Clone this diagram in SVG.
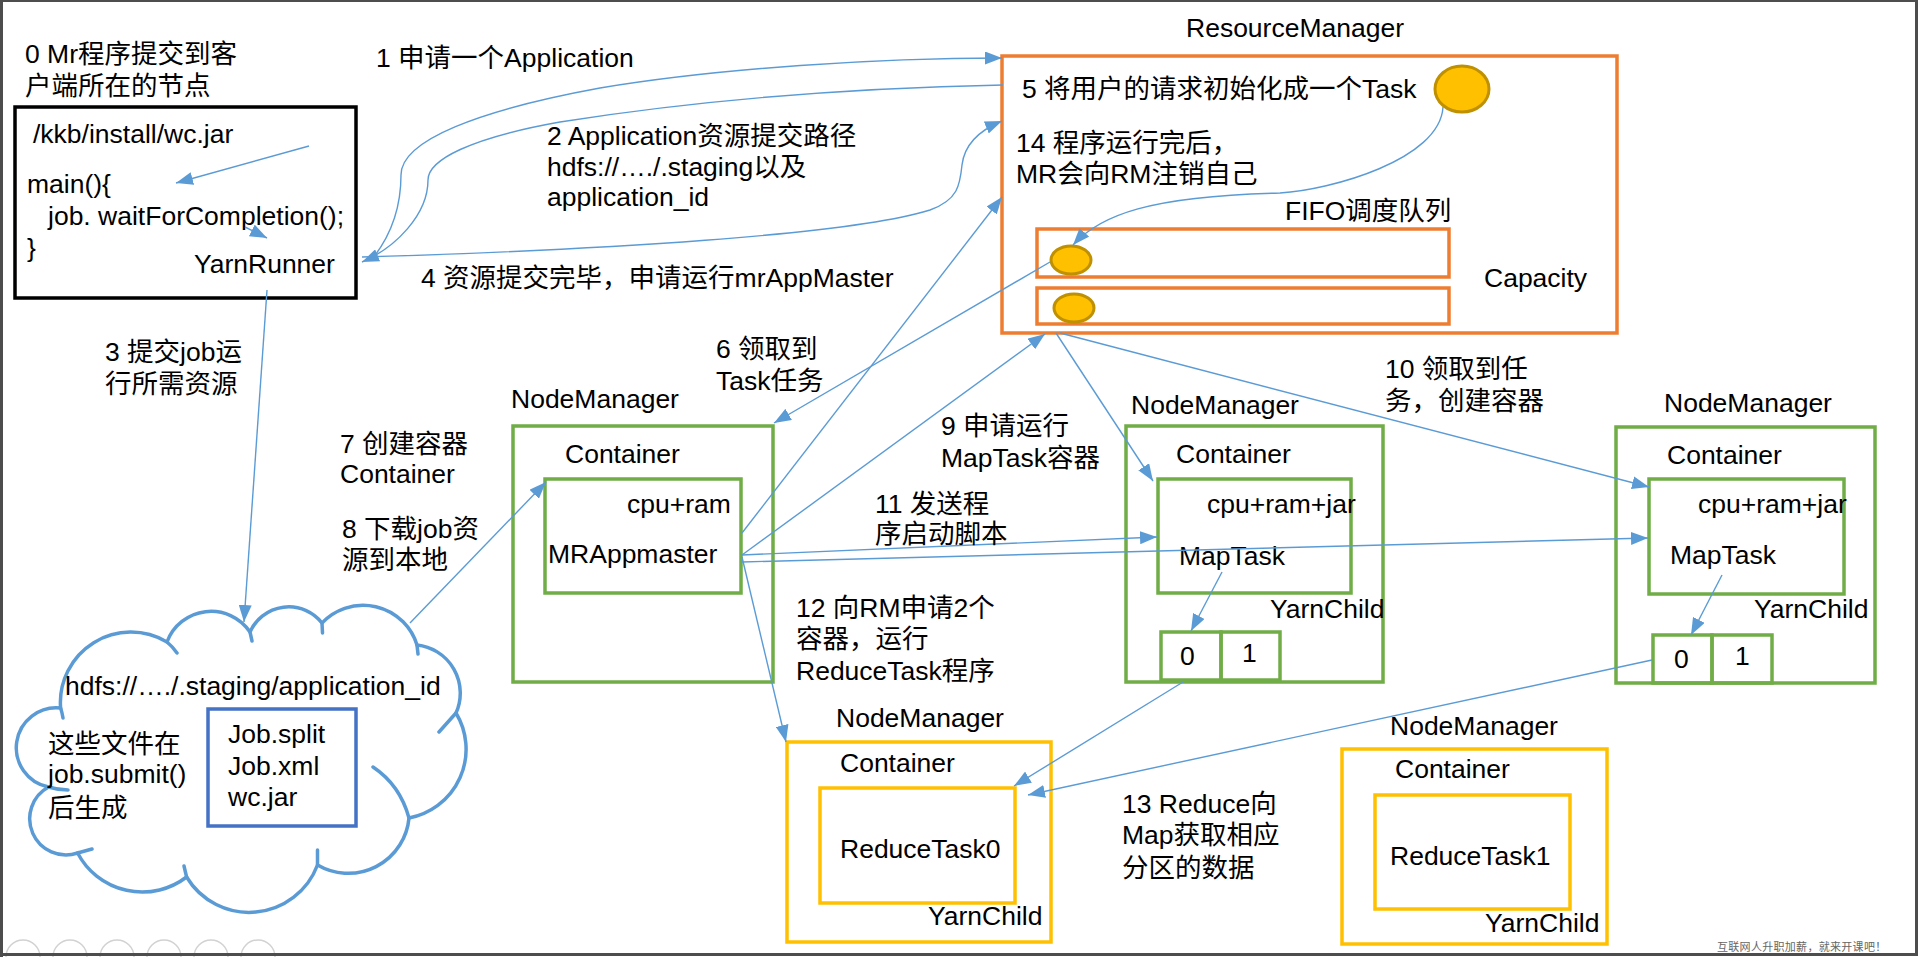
<svg xmlns="http://www.w3.org/2000/svg" width="1920" height="957" viewBox="0 0 1920 957">
<defs>
<style>
text{font-family:"Liberation Sans","Noto Sans CJK SC",sans-serif;font-size:26.5px;fill:#000}
.wm{font-family:"Noto Sans CJK SC",sans-serif;font-size:11px;fill:#666;letter-spacing:0.3px}
.blk{fill:none;stroke:#000;stroke-width:3.5}
.org{fill:none;stroke:#ED7D31;stroke-width:3.5}
.grn{fill:none;stroke:#70AD47;stroke-width:3.5}
.yel{fill:none;stroke:#FFC000;stroke-width:3.5}
.dkb{fill:none;stroke:#4472C4;stroke-width:3.5}
.cloud{fill:none;stroke:#5B9BD5;stroke-width:3.5;stroke-linecap:round}
.task{fill:#FFC000;stroke:#BF9000;stroke-width:3}
.con{fill:none;stroke:#5B9BD5;stroke-width:1.4}
.arr{marker-end:url(#ah)}
.ico{fill:none;stroke:#d2d2d2;stroke-width:1.5}
.frame{fill:#4d4d4d}
</style>
<marker id="ah" markerUnits="userSpaceOnUse" markerWidth="17" markerHeight="13" refX="17" refY="6.5" orient="auto">
<path d="M0,0 L17,6.5 L0,13 Z" fill="#5B9BD5"/>
</marker>
</defs>
<rect x="0" y="0" width="1920" height="957" fill="#fff"/>

<g id="client">
<text x="25" y="63">0 Mr程序提交到客</text>
<text x="25" y="95">户端所在的节点</text>
<rect class="blk" x="15" y="107" width="341" height="191"/>
<text x="33" y="143">/kkb/install/wc.jar</text>
<text x="27" y="193">main(){</text>
<text x="48" y="225">job. waitForCompletion();</text>
<text x="27" y="257">}</text>
<text x="194" y="273">YarnRunner</text>
</g>

<g id="hdfs">
<path class="cloud" d="M60.6,708 A70.5,70.5 0 0 1 167,642 A47,47 0 0 1 250,632 A42.4,42.4 0 0 1 322,623 A56.4,56.4 0 0 1 417,645 A48.4,48.4 0 0 1 456,713 A70,70 0 0 1 409,818 A61,61 0 0 1 317.5,865 A73,73 0 0 1 186.6,877 A73,73 0 0 1 77.6,853 A36.2,36.2 0 0 1 48.5,787 A40,40 0 0 1 60.6,708 Z"/>
<path class="cloud" d="M60.6,708 Q62,712 63,718 M167,642 Q172,646 177,653 M250,632 L252,641 M322,623 L322.5,633 M417,645 L418,654 M456,713 Q448,722 439,732 M409,818 Q400,785 373,767 M317.5,865 L317.5,850 M186.6,877 L184,866 M77.6,853 L92,849 M48.5,787 Q58,790 68,790"/>
<text x="65" y="695">hdfs://…./.staging/application_id</text>
<text x="48" y="753">这些文件在</text>
<text x="48" y="783">job.submit()</text>
<text x="48" y="817">后生成</text>
<rect class="dkb" x="208" y="709" width="148" height="117"/>
<text x="228" y="743">Job.split</text>
<text x="228" y="775">Job.xml</text>
<text x="228" y="806">wc.jar</text>
</g>

<g id="resourcemanager">
<text x="1186" y="37">ResourceManager</text>
<rect class="org" x="1002" y="56" width="615" height="277"/>
<text x="1022" y="98">5 将用户的请求初始化成一个Task</text>
<ellipse class="task" cx="1462" cy="89" rx="27" ry="23"/>
<text x="1016" y="152">14 程序运行完后，</text>
<text x="1016" y="183">MR会向RM注销自己</text>
<text x="1285" y="220">FIFO调度队列</text>
<rect class="org" x="1037" y="229" width="412" height="48"/>
<rect class="org" x="1037" y="288" width="412" height="36"/>
<ellipse class="task" cx="1071" cy="260" rx="20" ry="14"/>
<ellipse class="task" cx="1074" cy="308" rx="20" ry="14"/>
<text x="1484" y="287">Capacity</text>
</g>

<g id="nodemanager1">
<text x="511" y="408">NodeManager</text>
<rect class="grn" x="513" y="426" width="260" height="256"/>
<text x="565" y="463">Container</text>
<rect class="grn" x="545" y="479" width="196" height="114"/>
<text x="627" y="513">cpu+ram</text>
<text x="548" y="563">MRAppmaster</text>
</g>

<g id="nodemanager2">
<text x="1131" y="414">NodeManager</text>
<rect class="grn" x="1126" y="426" width="257" height="256"/>
<text x="1176" y="463">Container</text>
<rect class="grn" x="1158" y="479" width="193" height="114"/>
<text x="1207" y="513">cpu+ram+jar</text>
<text x="1179" y="565">MapTask</text>
<text x="1270" y="618">YarnChild</text>
<rect class="grn" x="1161" y="632" width="60" height="48"/>
<rect class="grn" x="1221" y="632" width="59" height="48"/>
<text x="1180" y="665">0</text>
<text x="1242" y="662">1</text>
</g>

<g id="nodemanager3">
<text x="1664" y="412">NodeManager</text>
<rect class="grn" x="1616" y="427" width="259" height="256"/>
<text x="1667" y="464">Container</text>
<rect class="grn" x="1649" y="479" width="195" height="115"/>
<text x="1698" y="513">cpu+ram+jar</text>
<text x="1670" y="564">MapTask</text>
<text x="1754" y="618">YarnChild</text>
<rect class="grn" x="1653" y="635" width="59" height="48"/>
<rect class="grn" x="1712" y="635" width="60" height="48"/>
<text x="1674" y="668">0</text>
<text x="1735" y="665">1</text>
</g>

<g id="nodemanager4">
<text x="836" y="727">NodeManager</text>
<rect class="yel" x="787" y="742" width="264" height="200"/>
<text x="840" y="772">Container</text>
<rect class="yel" x="820" y="788" width="195" height="115"/>
<text x="840" y="858">ReduceTask0</text>
<text x="928" y="925">YarnChild</text>
</g>

<g id="nodemanager5">
<text x="1390" y="735">NodeManager</text>
<rect class="yel" x="1342" y="749" width="265" height="195"/>
<text x="1395" y="778">Container</text>
<rect class="yel" x="1375" y="795" width="195" height="114"/>
<text x="1390" y="865">ReduceTask1</text>
<text x="1485" y="932">YarnChild</text>
</g>

<g id="connectors">
<path class="con arr" d="M309,146 L176,183"/>
<path class="con arr" d="M245,227 L267,238"/>
<path class="con arr" d="M373,258 C395,230 401,200 401,175 C401,140 480,110 600,88 C720,68 880,58 1002,58"/>
<path class="con arr" d="M1003,85 C850,88 700,100 560,122 C470,138 428,160 428,180 C428,215 395,248 362,262"/>
<path class="con arr" d="M362,257 C600,250 850,235 930,210 C958,200 960,185 962,165 C965,140 985,128 1002,121"/>
<path class="con arr" d="M267,290 L244,622"/>
<path class="con arr" d="M1443,107 C1440,160 1330,190 1280,193 C1150,196 1100,215 1073,245"/>
<path class="con arr" d="M1050,262 L774,423"/>
<path class="con arr" d="M410,623 L546,482"/>
<path class="con arr" d="M742,533 L1002,197"/>
<path class="con arr" d="M742,555 L1045,334"/>
<path class="con arr" d="M1056,333 L1153,481"/>
<path class="con arr" d="M1060,333 L1649,487"/>
<path class="con arr" d="M742,555 L1157,537"/>
<path class="con arr" d="M742,562 L1648,538"/>
<path class="con arr" d="M742,557 L786,742"/>
<path class="con arr" d="M1222,572 L1191,631"/>
<path class="con arr" d="M1722,575 L1691,635"/>
<path class="con arr" d="M1183,682 L1014,786"/>
<path class="con arr" d="M1652,660 L1028,795"/>
</g>

<g id="labels">
<text x="376" y="67">1 申请一个Application</text>
<text x="547" y="145">2 Application资源提交路径</text>
<text x="547" y="176">hdfs://…./.staging以及</text>
<text x="547" y="206">application_id</text>
<text x="105" y="361">3 提交job运</text>
<text x="105" y="393">行所需资源</text>
<text x="421" y="287">4 资源提交完毕，申请运行mrAppMaster</text>
<text x="716" y="358">6 领取到</text>
<text x="716" y="390">Task任务</text>
<text x="340" y="453">7 创建容器</text>
<text x="340" y="483">Container</text>
<text x="342" y="538">8 下载job资</text>
<text x="342" y="569">源到本地</text>
<text x="941" y="435">9 申请运行</text>
<text x="941" y="467">MapTask容器</text>
<text x="1385" y="378">10 领取到任</text>
<text x="1385" y="410">务，创建容器</text>
<text x="875" y="513">11 发送程</text>
<text x="875" y="543">序启动脚本</text>
<text x="796" y="617">12 向RM申请2个</text>
<text x="796" y="648">容器，运行</text>
<text x="796" y="680">ReduceTask程序</text>
<text x="1122" y="813">13 Reduce向</text>
<text x="1122" y="844">Map获取相应</text>
<text x="1122" y="877">分区的数据</text>
</g>

<g id="chrome">
<circle class="ico" cx="23" cy="957" r="17"/>
<circle class="ico" cx="70" cy="957" r="17"/>
<circle class="ico" cx="117" cy="957" r="17"/>
<circle class="ico" cx="164" cy="957" r="17"/>
<circle class="ico" cx="211" cy="957" r="17"/>
<circle class="ico" cx="258" cy="957" r="17"/>
<text class="wm" x="1717" y="951">互联网人升职加薪，就来开课吧！</text>
<rect class="frame" x="0" y="0" width="3" height="957"/>
<rect class="frame" x="0" y="0" width="1918" height="2"/>
<rect class="frame" x="1915" y="0" width="3" height="956"/>
<rect class="frame" x="0" y="953" width="1918" height="3"/>
</g>
</svg>
